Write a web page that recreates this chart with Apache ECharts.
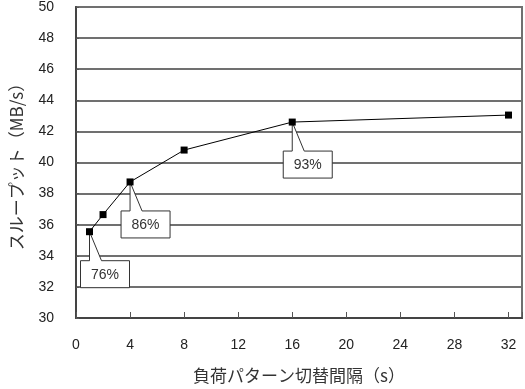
<!DOCTYPE html>
<html>
<head>
<meta charset="utf-8">
<script src="https://cdn.jsdelivr.net/npm/echarts@6/dist/echarts.min.js"></script>
<style>
  html, body { margin: 0; padding: 0; background: #fff; }
  #chart { width: 525px; height: 389px; }
</style>
</head>
<body>
<div id="chart"></div>
<script>
// 切替間隔 (s) とスループット (MB/s)
var xVals = [1, 2, 4, 8, 16, 32]
var yVals = [35.55, 36.65, 38.75, 40.8, 42.6, 43.05]
// 吹き出し
var noteX = [1, 4, 16]
var noteY = [35.55, 38.75, 42.6]
var noteText = ['76%', '86%', '93%']

var numFont = "'Liberation Sans', Arial, sans-serif"
var jpFont = "'Noto Sans CJK JP', sans-serif"

var lineData = xVals.map(function(x, i) { return [x, yVals[i]] })
var noteData = noteX.map(function(x, i) { return [x, noteY[i], noteText[i]] })

var myChart = echarts.init(document.getElementById('chart'))
var option = {
  backgroundColor: '#fff',
  animation: false,
  grid: {
    left: 75,
    right: 3,
    top: 7,
    bottom: 69,
    show: true,
    borderColor: '#707070',
    borderWidth: 2,
  },
  xAxis: {
    type: 'value',
    min: 0,
    max: 33,
    interval: 4,
    name: '負荷パターン切替間隔（s）',
    nameLocation: 'middle',
    nameGap: 49,
    nameTextStyle: { fontFamily: jpFont, fontSize: 17, color: '#333' },
    axisLabel: {
      margin: 20,
      fontFamily: numFont,
      fontSize: 14,
      color: '#222',
      formatter: function(v) { return v % 4 === 0 ? v : '' },
    },
    axisLine: { show: true, lineStyle: { color: '#444', width: 2 } },
    axisTick: { show: true, inside: true, length: 6, lineStyle: { color: '#555' } },
    splitLine: { show: false },
  },
  yAxis: {
    type: 'value',
    min: 30,
    max: 50,
    interval: 2,
    name: 'スループット（MB/s）',
    nameLocation: 'middle',
    nameGap: 51,
    nameTextStyle: { fontFamily: jpFont, fontSize: 17, color: '#333' },
    axisLabel: { margin: 22, fontFamily: numFont, fontSize: 14, color: '#222' },
    axisLine: { show: true, lineStyle: { color: '#444', width: 2 } },
    axisTick: { show: true, inside: true, length: 3, lineStyle: { color: '#555' } },
    splitLine: { show: true, lineStyle: { color: '#707070', width: 2 } },
  },
  series: [
    {
      type: 'custom',
      z: 2,
      data: noteData,
      renderItem: function(params, api) {
        var p = api.coord([api.value(0), api.value(1)])
        return {
          type: 'group',
          x: p[0],
          y: p[1],
          children: [
            {
              type: 'polygon',
              shape: { points: [[0, 0], [0, 29], [-9, 29], [-9, 56], [40, 56], [40, 29], [12, 29]] },
              style: { fill: '#fff', stroke: '#333', lineWidth: 1 },
            },
            {
              type: 'text',
              x: 15.5,
              y: 43,
              style: {
                text: api.value(2),
                fontFamily: numFont,
                fontSize: 14,
                fill: '#333',
                align: 'center',
                verticalAlign: 'middle',
              },
            },
          ],
        }
      },
    },
    {
      type: 'line',
      z: 3,
      data: lineData,
      symbol: 'rect',
      symbolSize: 7,
      lineStyle: { color: '#000', width: 1 },
      itemStyle: { color: '#000' },
    },
  ],
}
myChart.setOption(option)
window.addEventListener('resize', function() {
  myChart.resize()
})
</script>
</body>
</html>
